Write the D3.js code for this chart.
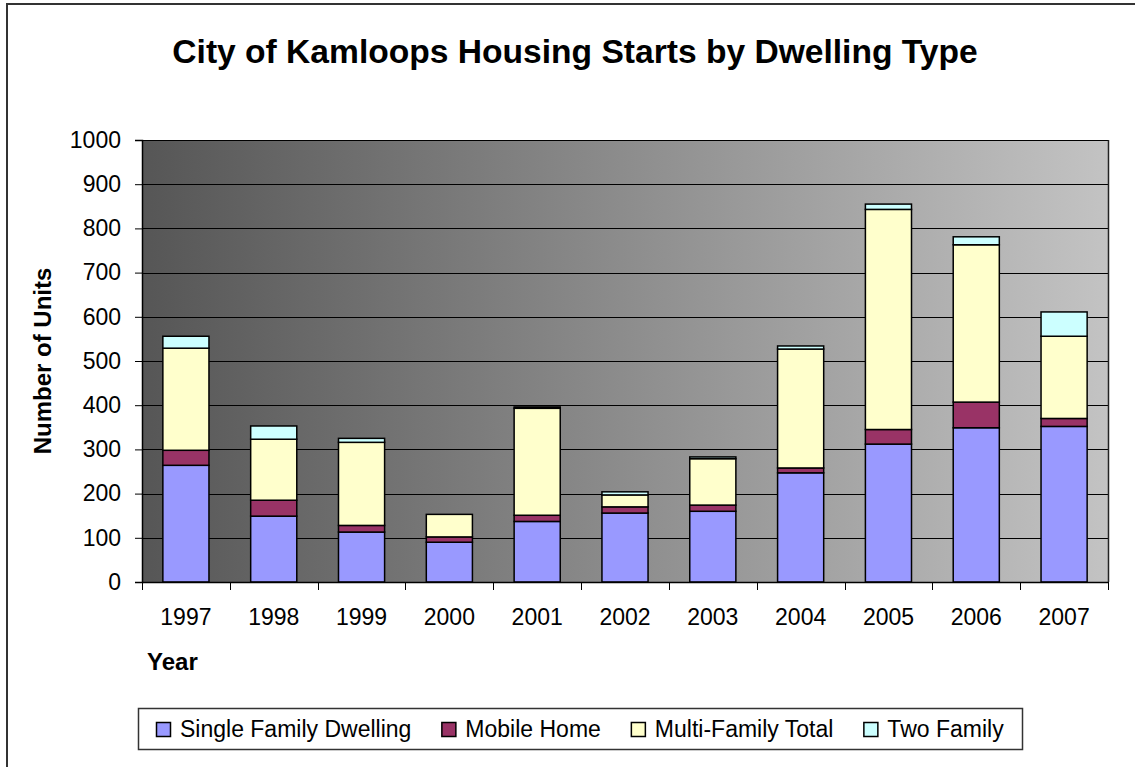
<!DOCTYPE html>
<html><head><meta charset="utf-8">
<script src="https://cdn.jsdelivr.net/npm/d3@7"></script>
<style>
html,body{margin:0;padding:0;background:#fff;}
svg{display:block;font-family:"Liberation Sans",Arial,sans-serif;}
</style></head>
<body>
<svg id="c" width="1135" height="767"></svg>
<script>
const years = ["1997","1998","1999","2000","2001","2002","2003","2004","2005","2006","2007"];
const singleFamily = [264,149,113,90,137,156,160,247,312,349,352];
const mobileHome   = [34,36,15,12,14,14,14,11,33,58,18];
const multiFamily  = [231,138,188,51,242,27,105,269,498,356,186];
const twoFamily    = [27,30,9,0,3,7,4,7,12,18,55];
const seriesNames  = ["Single Family Dwelling","Mobile Home","Multi-Family Total","Two Family"];
const seriesColors = ["#9999FF","#993366","#FFFFCC","#CCFFFF"];
const yTicks = [0,100,200,300,400,500,600,700,800,900,1000];

const svg = d3.select("#c");
const plot = {l:142, r:1108, t:140, b:582};

// outer frame
svg.append("rect").attr("x",7).attr("y",4).attr("width",1140).attr("height",780)
  .attr("fill","#fff").attr("stroke","#333").attr("stroke-width",2);

// title
svg.append("text").attr("x",575).attr("y",63).attr("text-anchor","middle")
  .attr("font-size",33.6).attr("font-weight","bold").text("City of Kamloops Housing Starts by Dwelling Type");

const defs = svg.append("defs");
const grad = defs.append("linearGradient").attr("id","bg").attr("x1","0").attr("x2","1").attr("y1","0").attr("y2","0");
grad.append("stop").attr("offset","0").attr("stop-color","#565656");
grad.append("stop").attr("offset","1").attr("stop-color","#c3c3c3");

svg.append("rect").attr("x",plot.l).attr("y",plot.t).attr("width",plot.r-plot.l).attr("height",plot.b-plot.t)
  .attr("fill","url(#bg)");

const x = d3.scaleBand().domain(years).range([plot.l,plot.r]).paddingInner(0.475).paddingOuter(0.2375);
const y = d3.scaleLinear().domain([0,1000]).range([plot.b,plot.t]);

// gridlines
svg.append("g").selectAll("line").data(yTicks.filter(d=>d>0)).join("line")
  .attr("x1",plot.l).attr("x2",plot.r).attr("y1",d=>Math.round(y(d))+0.5).attr("y2",d=>Math.round(y(d))+0.5)
  .attr("stroke","#000").attr("stroke-width",1);

// stacked data
const table = years.map((yr,i)=>({year:yr, s0:singleFamily[i], s1:mobileHome[i], s2:multiFamily[i], s3:twoFamily[i]}));
const stack = d3.stack().keys(["s0","s1","s2","s3"])(table);

stack.forEach((layer,k)=>{
  svg.append("g").selectAll("rect").data(layer.filter(d=>d[1]-d[0]>0)).join("rect")
    .attr("x",d=>x(d.data.year)).attr("width",x.bandwidth())
    .attr("y",d=>y(d[1])).attr("height",d=>y(d[0])-y(d[1]))
    .attr("fill",seriesColors[k]).attr("stroke","#000").attr("stroke-width",1.5);
});

// plot border (right)
svg.append("line").attr("x1",plot.r+0.5).attr("x2",plot.r+0.5).attr("y1",plot.t).attr("y2",plot.b).attr("stroke","#222").attr("stroke-width",1.5);

// Y axis
const yAxis = d3.axisLeft(y).tickValues(yTicks).tickSize(7).tickPadding(14).tickFormat(d3.format("d"));
const gy = svg.append("g").attr("transform",`translate(${plot.l},0)`).call(yAxis);
gy.select(".domain").attr("stroke","#000").attr("stroke-width",1.5);
gy.selectAll(".tick line").attr("stroke","#000");
gy.selectAll("text").attr("font-size",23).attr("fill","#000").attr("font-family","Liberation Sans, Arial, sans-serif");

// X axis (labels centered, ticks at category boundaries)
const xAxis = d3.axisBottom(x).tickSize(0).tickPadding(27);
const gx = svg.append("g").attr("transform",`translate(0,${plot.b})`).call(xAxis);
gx.select(".domain").remove();
gx.selectAll("text").attr("font-size",23).attr("fill","#000").attr("font-family","Liberation Sans, Arial, sans-serif");
svg.append("line").attr("x1",plot.l).attr("x2",plot.r).attr("y1",plot.b+0.5).attr("y2",plot.b+0.5).attr("stroke","#000").attr("stroke-width",1.5);
const boundaries = years.map(yr=>x(yr)-x.step()*x.paddingOuter()).concat([plot.r]);
svg.append("g").selectAll("line").data(boundaries).join("line")
  .attr("x1",d=>Math.round(d)+0.5).attr("x2",d=>Math.round(d)+0.5).attr("y1",plot.b).attr("y2",plot.b+8)
  .attr("stroke","#000");

// axis titles
svg.append("text").attr("transform","translate(51,361) rotate(-90)").attr("text-anchor","middle")
  .attr("font-size",24).attr("font-weight","bold").text("Number of Units");
svg.append("text").attr("x",147).attr("y",670).attr("font-size",24).attr("font-weight","bold").text("Year");

// legend
const lg = svg.append("g");
lg.append("rect").attr("x",138.5).attr("y",708.5).attr("width",884).attr("height",41).attr("fill","#fff").attr("stroke","#333").attr("stroke-width",1.5);
let lx = 156;
seriesNames.forEach((n,i)=>{
  lg.append("rect").attr("x",lx+0.5).attr("y",722.5).attr("width",14).attr("height",14)
    .attr("fill",seriesColors[i]).attr("stroke","#000").attr("stroke-width",1.5);
  const t = lg.append("text").attr("x",lx+24).attr("y",737).attr("font-size",23).text(n);
  lx += 24 + t.node().getComputedTextLength() + 30;
});
</script>
</body></html>
